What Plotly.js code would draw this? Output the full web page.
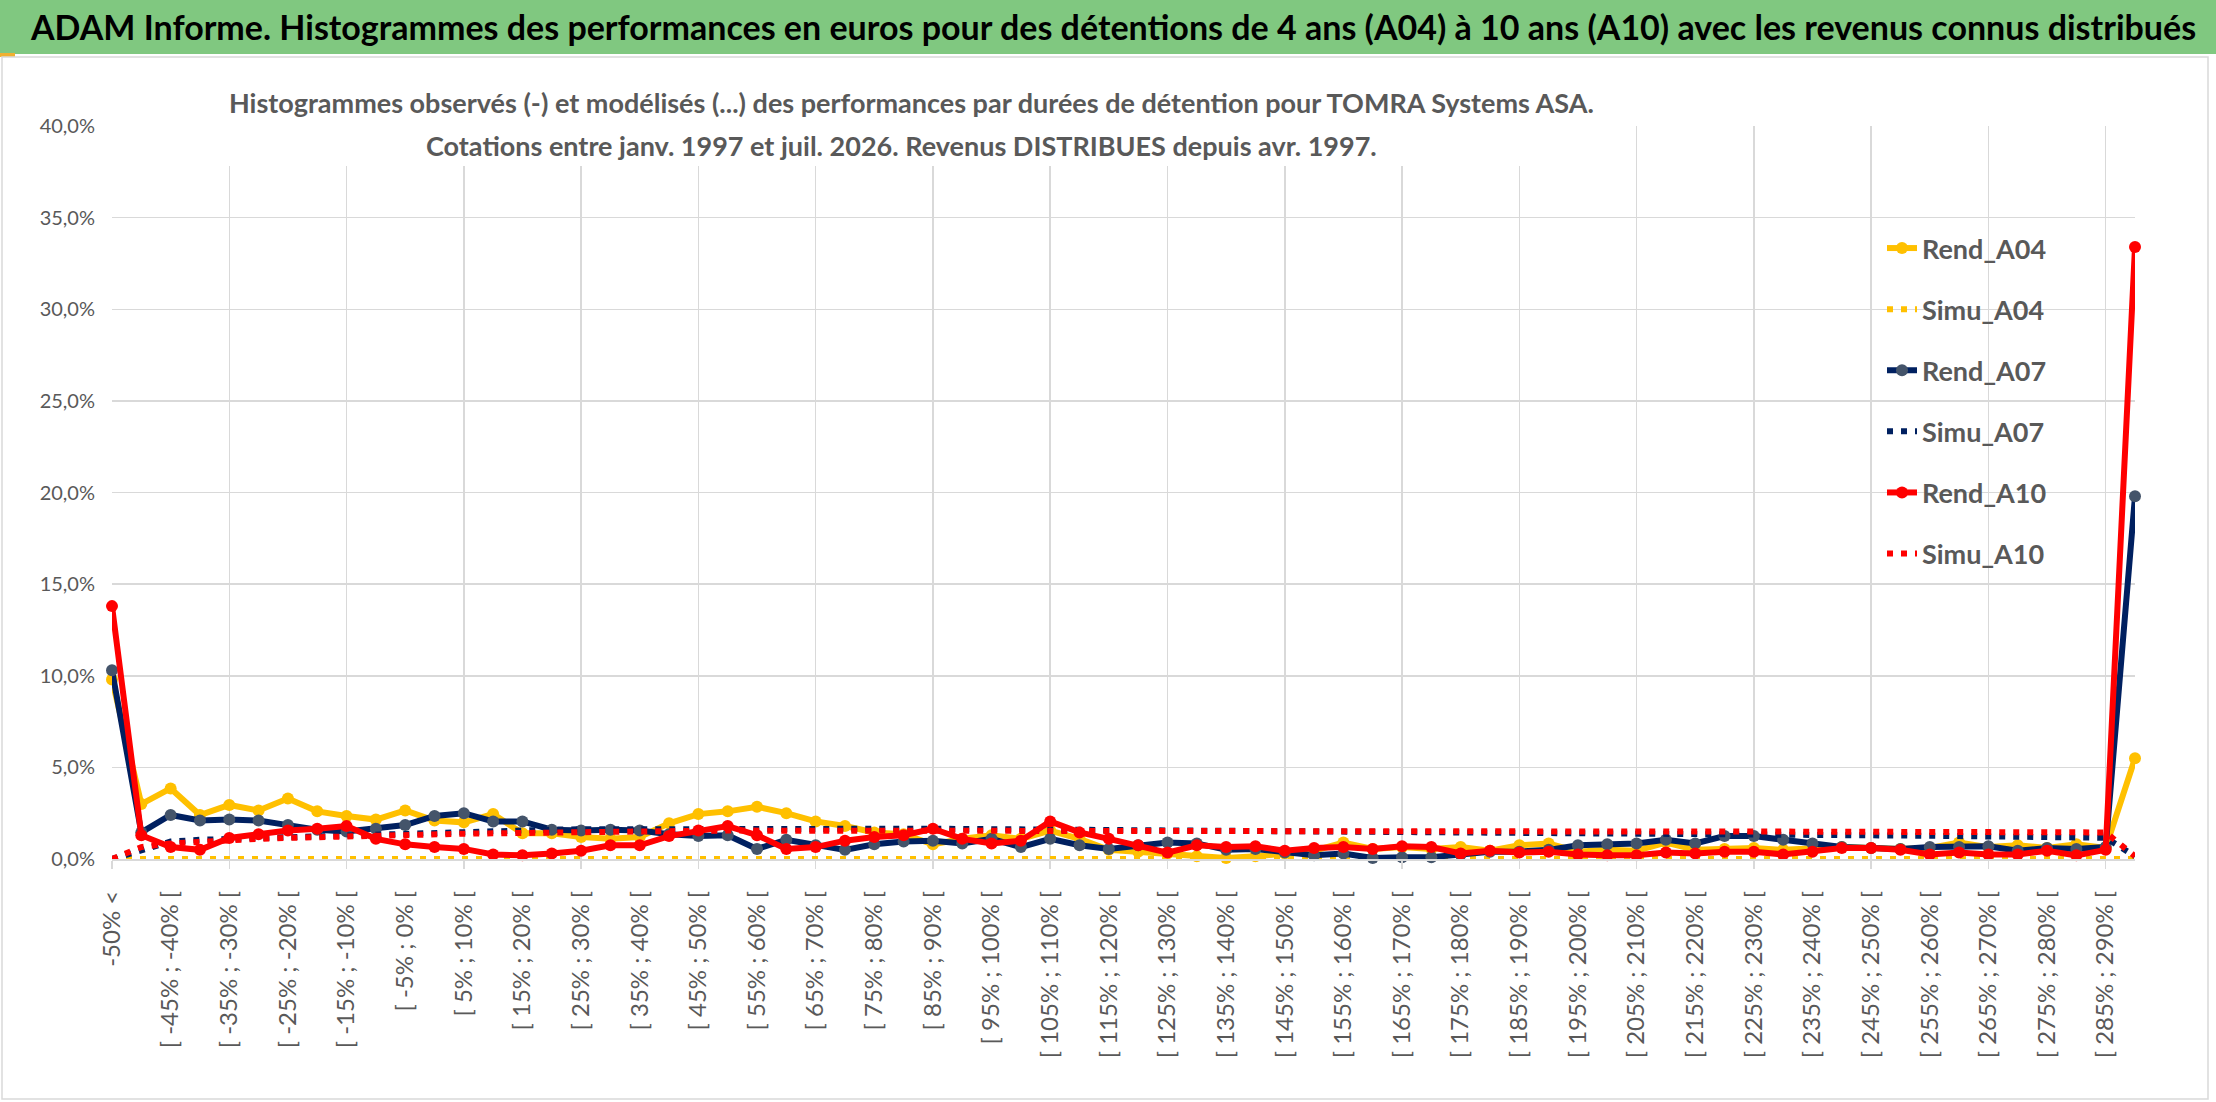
<!DOCTYPE html>
<html>
<head>
<meta charset="utf-8">
<script src="https://cdn.plot.ly/plotly-3.0.1.min.js"></script>
<style>
    html, body { margin: 0; padding: 0; background: #ffffff; }
    #chart { width: 2216px; height: 1102px; }
</style>
</head>
<body>
<div id="chart"></div>
<script>
// classes de performance (axe des abscisses)
const categories = [
    "-50% <",
    "[ -50% ; -45% [", "[ -45% ; -40% [", "[ -40% ; -35% [", "[ -35% ; -30% [", "[ -30% ; -25% [",
    "[ -25% ; -20% [", "[ -20% ; -15% [", "[ -15% ; -10% [", "[ -10% ; -5% [", "[ -5% ; 0% [",
    "[ 0% ; 5% [", "[ 5% ; 10% [", "[ 10% ; 15% [", "[ 15% ; 20% [", "[ 20% ; 25% [",
    "[ 25% ; 30% [", "[ 30% ; 35% [", "[ 35% ; 40% [", "[ 40% ; 45% [", "[ 45% ; 50% [",
    "[ 50% ; 55% [", "[ 55% ; 60% [", "[ 60% ; 65% [", "[ 65% ; 70% [", "[ 70% ; 75% [",
    "[ 75% ; 80% [", "[ 80% ; 85% [", "[ 85% ; 90% [", "[ 90% ; 95% [", "[ 95% ; 100% [",
    "[ 100% ; 105% [", "[ 105% ; 110% [", "[ 110% ; 115% [", "[ 115% ; 120% [", "[ 120% ; 125% [",
    "[ 125% ; 130% [", "[ 130% ; 135% [", "[ 135% ; 140% [", "[ 140% ; 145% [", "[ 145% ; 150% [",
    "[ 150% ; 155% [", "[ 155% ; 160% [", "[ 160% ; 165% [", "[ 165% ; 170% [", "[ 170% ; 175% [",
    "[ 175% ; 180% [", "[ 180% ; 185% [", "[ 185% ; 190% [", "[ 190% ; 195% [", "[ 195% ; 200% [",
    "[ 200% ; 205% [", "[ 205% ; 210% [", "[ 210% ; 215% [", "[ 215% ; 220% [", "[ 220% ; 225% [",
    "[ 225% ; 230% [", "[ 230% ; 235% [", "[ 235% ; 240% [", "[ 240% ; 245% [", "[ 245% ; 250% [",
    "[ 250% ; 255% [", "[ 255% ; 260% [", "[ 260% ; 265% [", "[ 265% ; 270% [", "[ 270% ; 275% [",
    "[ 275% ; 280% [", "[ 280% ; 285% [", "[ 285% ; 290% [",
    "> 290%"
];

// frequences observees (en %)
const rendA04 = [
    9.8, 3.0, 3.85, 2.4, 2.95, 2.65, 3.3, 2.6, 2.35, 2.15,
    2.65, 2.1, 2.0, 2.45, 1.4, 1.4, 1.2, 1.1, 1.2, 1.95,
    2.45, 2.6, 2.85, 2.5, 2.05, 1.8, 1.45, 1.35, 0.8, 1.1,
    1.3, 1.1, 1.55, 1.1, 0.5, 0.4, 0.3, 0.15, 0.05, 0.15,
    0.3, 0.45, 0.9, 0.55, 0.65, 0.55, 0.65, 0.45, 0.75, 0.85,
    0.4, 0.5, 0.45, 0.9, 0.5, 0.55, 0.6, 0.5, 0.6, 0.65,
    0.6, 0.55, 0.6, 0.9, 0.65, 0.75, 0.6, 0.8, 0.6, 5.5
];
const rendA07 = [
    10.3, 1.45, 2.4, 2.1, 2.15, 2.1, 1.85, 1.6, 1.5, 1.65,
    1.85, 2.35, 2.5, 2.05, 2.05, 1.6, 1.55, 1.6, 1.55, 1.35,
    1.25, 1.3, 0.55, 1.05, 0.75, 0.5, 0.8, 0.95, 1.0, 0.85,
    1.1, 0.65, 1.1, 0.75, 0.55, 0.75, 0.9, 0.85, 0.5, 0.55,
    0.35, 0.2, 0.3, 0.05, 0.1, 0.1, 0.25, 0.4, 0.4, 0.5,
    0.75, 0.8, 0.85, 1.05, 0.85, 1.25, 1.25, 1.05, 0.85, 0.65,
    0.6, 0.55, 0.65, 0.65, 0.7, 0.45, 0.6, 0.55, 0.65, 19.8
];
const rendA10 = [
    13.8, 1.3, 0.65, 0.5, 1.15, 1.35, 1.55, 1.65, 1.8, 1.1,
    0.8, 0.65, 0.55, 0.25, 0.2, 0.3, 0.45, 0.75, 0.75, 1.25,
    1.55, 1.8, 1.3, 0.55, 0.65, 1.0, 1.2, 1.3, 1.65, 1.1,
    0.85, 1.0, 2.05, 1.45, 1.1, 0.75, 0.35, 0.75, 0.65, 0.7,
    0.45, 0.6, 0.65, 0.55, 0.7, 0.65, 0.3, 0.45, 0.35, 0.4,
    0.25, 0.2, 0.2, 0.35, 0.3, 0.4, 0.4, 0.25, 0.4, 0.6,
    0.6, 0.5, 0.25, 0.35, 0.25, 0.25, 0.45, 0.2, 0.5, 33.4
];

// frequences modelisees (en %)
const simuA04 = [
    0, 0, 0, 0, 0, 0, 0, 0, 0, 0,
    0, 0, 0, 0, 0, 0, 0, 0, 0, 0,
    0, 0, 0, 0, 0, 0, 0, 0, 0, 0,
    0, 0, 0, 0, 0, 0, 0, 0, 0, 0,
    0, 0, 0, 0, 0, 0, 0, 0, 0, 0,
    0, 0, 0, 0, 0, 0, 0, 0, 0, 0,
    0, 0, 0, 0, 0, 0, 0, 0, 0, 0
];
const simuA07 = [
    0, 0.5, 0.95, 1.05, 1.1, 1.15, 1.2, 1.25, 1.3, 1.35,
    1.4, 1.47, 1.5, 1.55, 1.58, 1.6, 1.62, 1.63, 1.64, 1.65,
    1.65, 1.66, 1.66, 1.66, 1.66, 1.66, 1.66, 1.65, 1.65, 1.64,
    1.64, 1.63, 1.63, 1.62, 1.62, 1.61, 1.6, 1.6, 1.59, 1.58,
    1.57, 1.56, 1.55, 1.54, 1.53, 1.52, 1.5, 1.49, 1.48, 1.46,
    1.45, 1.44, 1.42, 1.41, 1.4, 1.38, 1.37, 1.35, 1.34, 1.32,
    1.3, 1.29, 1.27, 1.25, 1.24, 1.22, 1.2, 1.18, 1.16, 0.15
];
const simuA10 = [
    0, 0.65, 0.85, 0.95, 1.05, 1.1, 1.15, 1.2, 1.25, 1.28,
    1.32, 1.35, 1.38, 1.4, 1.43, 1.45, 1.47, 1.5, 1.52, 1.53,
    1.54, 1.55, 1.55, 1.56, 1.56, 1.56, 1.57, 1.57, 1.57, 1.57,
    1.57, 1.57, 1.57, 1.57, 1.57, 1.57, 1.57, 1.56, 1.56, 1.56,
    1.56, 1.56, 1.55, 1.55, 1.55, 1.55, 1.54, 1.54, 1.54, 1.53,
    1.53, 1.52, 1.52, 1.52, 1.51, 1.51, 1.5, 1.5, 1.5, 1.49,
    1.49, 1.48, 1.48, 1.48, 1.47, 1.47, 1.46, 1.46, 1.45, 0.15
];

const seriesNames = ["Rend_A04", "Simu_A04", "Rend_A07", "Simu_A07", "Rend_A10", "Simu_A10"];
const yTicks = [0, 5, 10, 15, 20, 25, 30, 35, 40];

const mainTitle = "ADAM Informe. Histogrammes des performances en euros pour des détentions de 4 ans (A04) à 10 ans (A10) avec les revenus connus distribués";
const subTitle = [
    "Histogrammes observés (-) et modélisés (...) des performances par durées de détention pour TOMRA Systems ASA.",
    "Cotations entre janv. 1997 et juil. 2026. Revenus DISTRIBUES depuis avr. 1997."
];

const W = 2216, H = 1102;
const M = { l: 112, r: 81, t: 126, b: 243 };
const FONT = "Lato, 'Open Sans', sans-serif";
const GREY_TXT = "#595959";
const GRID = "#d9d9d9";

// pixel de la page -> coordonnees 'paper'
const paperX = (px) => (px - M.l) / (W - M.l - M.r);
const paperY = (py) => (H - M.b - py) / (H - M.t - M.b);

function buildTraces() {
    const styles = {
        Rend_A04: { color: "#ffc000", marker: "#ffc000", dotted: false },
        Simu_A04: { color: "#ffc000", dotted: true },
        Rend_A07: { color: "#002060", marker: "#44546a", dotted: false },
        Simu_A07: { color: "#002060", dotted: true },
        Rend_A10: { color: "#ff0000", marker: "#ff0000", dotted: false },
        Simu_A10: { color: "#ff0000", dotted: true },
    };
    const values = [rendA04, simuA04, rendA07, simuA07, rendA10, simuA10];

    const traces = seriesNames.map((name, i) => {
        const st = styles[name];
        const trace = {
            type: "scatter",
            name: name,
            legendgroup: name,
            x: categories,
            y: values[i],
            xaxis: "x",
            yaxis: "y",
            cliponaxis: false,
            hoverinfo: "skip",
            line: { color: st.color, width: 6 },
        };
        if (st.dotted) {
            trace.mode = "lines";
            trace.line.dash = "6px,8px";
        } else {
            trace.mode = "lines+markers";
            trace.marker = { color: st.marker, size: 12, symbol: "circle" };
        }
        return trace;
    });

    // trace invisible : donne ses categories a l'axe des libelles (x2)
    traces.push({
        type: "scatter",
        mode: "lines",
        x: categories,
        y: simuA04,
        xaxis: "x2",
        yaxis: "y",
        line: { width: 0 },
        opacity: 0,
        showlegend: false,
        hoverinfo: "skip",
    });

    return traces;
}

function buildLayout() {
    const gridCats = categories.filter((c, i) => i % 4 === 0);
    const labelCats = categories.filter((c, i) => i % 2 === 0);
    const lastIdx = categories.length - 1;
    const yLabels = yTicks.map(v => v.toFixed(1).replace(".", ",") + "%");

    return {
        width: W,
        height: H,
        margin: M,
        paper_bgcolor: "#ffffff",
        plot_bgcolor: "#ffffff",
        separators: ", ",
        font: { family: FONT, color: GREY_TXT },
        showlegend: true,
        legend: {
            x: paperX(1882),
            y: paperY(224),
            xanchor: "left",
            yanchor: "top",
            bgcolor: "rgba(0,0,0,0)",
            tracegroupgap: 23,
            font: { family: FONT, size: 27, color: GREY_TXT, weight: "bold" },
        },
        xaxis: {
            type: "category",
            categoryorder: "array",
            categoryarray: categories,
            range: [0, lastIdx],
            tickmode: "array",
            tickvals: gridCats,
            showticklabels: false,
            ticks: "outside",
            ticklen: 8,
            tickwidth: 1.5,
            tickcolor: GRID,
            showgrid: true,
            gridcolor: GRID,
            gridwidth: 1.5,
            showline: true,
            linecolor: GRID,
            linewidth: 1.5,
            zeroline: false,
        },
        xaxis2: {
            type: "category",
            overlaying: "x",
            anchor: "y",
            side: "bottom",
            categoryorder: "array",
            categoryarray: categories,
            range: [0, lastIdx],
            tickmode: "array",
            tickvals: labelCats,
            ticktext: labelCats,
            tickangle: -90,
            ticks: "",
            ticklabelstandoff: 26,
            tickfont: { family: FONT, size: 24, color: GREY_TXT },
            showgrid: false,
            showline: false,
            zeroline: false,
        },
        yaxis: {
            range: [0, 40],
            tickmode: "array",
            tickvals: yTicks,
            ticktext: yLabels,
            ticks: "",
            ticklabelstandoff: 16,
            tickfont: { family: FONT, size: 20, color: GREY_TXT },
            showgrid: true,
            gridcolor: GRID,
            gridwidth: 1.5,
            showline: false,
            zeroline: false,
        },
        shapes: [
            // bandeau vert du titre
            {
                type: "rect", xref: "paper", yref: "paper", layer: "below",
                x0: paperX(0), x1: paperX(W), y0: paperY(54), y1: paperY(0),
                fillcolor: "#80c880", line: { width: 0 },
            },
            {
                type: "rect", xref: "paper", yref: "paper", layer: "below",
                x0: paperX(0), x1: paperX(15), y0: paperY(57), y1: paperY(53),
                fillcolor: "#f0b030", line: { width: 0 },
            },
            // cadre du graphique
            {
                type: "rect", xref: "paper", yref: "paper", layer: "below",
                x0: paperX(2), x1: paperX(2208), y0: paperY(1099), y1: paperY(57),
                line: { color: GRID, width: 1.5 },
            },
            // fond blanc du sous-titre
            {
                type: "rect", xref: "paper", yref: "paper", layer: "above",
                x0: paperX(212), x1: paperX(1606), y0: paperY(166), y1: paperY(82),
                fillcolor: "#ffffff", line: { width: 0 },
            },
        ],
        annotations: [
            {
                xref: "paper", yref: "paper", showarrow: false,
                x: paperX(28), y: paperY(27), xanchor: "left", yanchor: "middle",
                text: mainTitle,
                font: { family: FONT, size: 34, color: "#000000", weight: "bold" },
            },
            {
                xref: "paper", yref: "paper", showarrow: false,
                x: paperX(911), y: paperY(102), xanchor: "center", yanchor: "middle",
                text: subTitle[0],
                font: { family: FONT, size: 27, color: GREY_TXT, weight: "bold" },
            },
            {
                xref: "paper", yref: "paper", showarrow: false,
                x: paperX(901), y: paperY(146), xanchor: "center", yanchor: "middle",
                text: subTitle[1],
                font: { family: FONT, size: 27, color: GREY_TXT, weight: "bold" },
            },
        ],
    };
}

const config = { staticPlot: true, displayModeBar: false, responsive: false };

Plotly.newPlot("chart", buildTraces(), buildLayout(), config);
</script>
</body>
</html>
